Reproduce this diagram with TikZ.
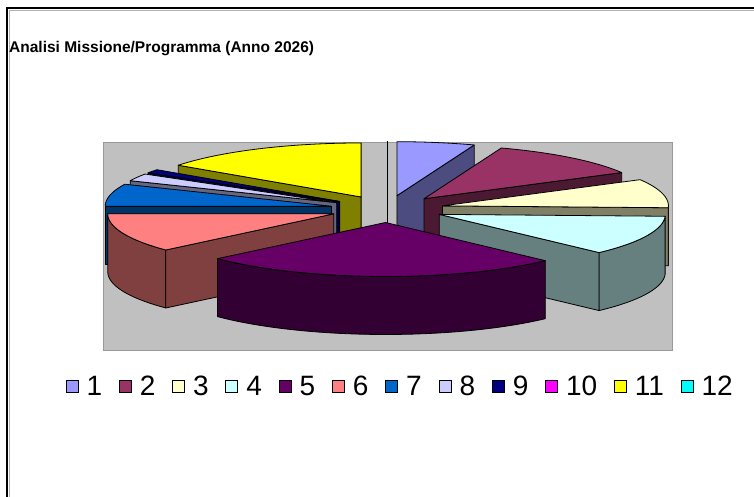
\documentclass[tikz,border=0pt]{standalone}
\usepackage{fontspec}
\setmainfont{Liberation Sans}
\usetikzlibrary{positioning}
\definecolor{serA}{HTML}{9999FF}
\definecolor{serB}{HTML}{993366}
\definecolor{serC}{HTML}{FFFFCC}
\definecolor{serD}{HTML}{CCFFFF}
\definecolor{serE}{HTML}{660066}
\definecolor{serF}{HTML}{FF8080}
\definecolor{serG}{HTML}{0066CC}
\definecolor{serH}{HTML}{CCCCFF}
\definecolor{serI}{HTML}{000080}
\definecolor{serJ}{HTML}{FF00FF}
\definecolor{serK}{HTML}{FFFF00}
\definecolor{serL}{HTML}{00FFFF}
\definecolor{plotgray}{HTML}{C0C0C0}
\tikzset{
  edge/.style={draw=black, line width=0.8pt, line join=round},
  key/.style={draw=black, line width=0.8pt, minimum size=12pt, inner sep=0pt},
  keylabel/.style={font=\fontsize{28}{30}\selectfont, inner sep=0pt},
}
\begin{document}
\begin{tikzpicture}[x=1pt, y=-1pt]
    \useasboundingbox (0,0) rectangle (754,497);
    % Cornice e titolo
    \draw[gray!60, line width=1pt] (9.5,497) |- (754,10.5);
    \draw[line width=2pt] (7,497) |- (754,8);
    \node[anchor=base west, inner sep=0pt, font=\bfseries\fontsize{15.5}{18}\selectfont]
        (titolo) at (9,53) {Analisi Missione/Programma (Anno 2026)};
    % Area del grafico
    \filldraw[fill=plotgray, draw=gray!80] (103,142) rectangle (672,350);
    % Torta 3D esplosa
    \def\cx{387} \def\cy{209} \def\rx{226} \def\ry{54} \def\ex{57} \def\ey{13.5} \def\h{58}
    \draw[edge] (\cx,{\cy-\ey-\ry}) -- (\cx,{\cy-\ey+\h}); % fetta 12, vuota
    \foreach \a/\b/\c in {0/20/serA, 306/360/serK, 20/61/serB, 302/306/serI,
        294/302/serH, 61/92/serC, 270/294/serG, 228/270/serF, 92/135/serD, 135/228/serE}
    {
        \pgfmathsetmacro\m{(\a+\b)/2}
        \pgfmathsetmacro\px{\cx+\ex*sin(\m)}
        \pgfmathsetmacro\py{\cy-\ey*cos(\m)}
        \pgfmathsetmacro\lo{max(\a,90)}
        \pgfmathsetmacro\hi{min(\b,270)}
        \pgfmathtruncatemacro\wall{\lo<\hi}
        \pgfmathtruncatemacro\front{sin(\a)<-0.01}
        \pgfmathtruncatemacro\rear{sin(\b)>0.01}
        % parete esterna
        \ifnum\wall=1
        \filldraw[edge, fill=\c!50!black]
            plot[domain=\lo:\hi, samples=40, variable=\t] ({\px+\rx*sin(\t)}, {\py-\ry*cos(\t)})
            -- plot[domain=\hi:\lo, samples=40, variable=\t] ({\px+\rx*sin(\t)}, {\py-\ry*cos(\t)+\h})
            -- cycle;
        \fi
        % facce del taglio
        \ifnum\front=1
        \filldraw[edge, fill=\c!50!black] (\px,\py) -- ({\px+\rx*sin(\a)}, {\py-\ry*cos(\a)})
            -- ++(0,\h) -- (\px,{\py+\h}) -- cycle;
        \fi
        \ifnum\rear=1
        \filldraw[edge, fill=\c!50!black] (\px,\py) -- ({\px+\rx*sin(\b)}, {\py-\ry*cos(\b)})
            -- ++(0,\h) -- (\px,{\py+\h}) -- cycle;
        \fi
        % faccia superiore
        \filldraw[edge, fill=\c] (\px,\py)
            -- plot[domain=\a:\b, samples=40, variable=\t] ({\px+\rx*sin(\t)}, {\py-\ry*cos(\t)})
            -- cycle;
    }
    % Legenda
    \node[key, fill=serA] (k1) at (72,386) {};
    \node[keylabel, right=8pt of k1] (l1) {1};
    \foreach \i/\c [remember=\i as \j (initially 1)] in {2/serB, 3/serC, 4/serD, 5/serE,
        6/serF, 7/serG, 8/serH, 9/serI, 10/serJ, 11/serK, 12/serL}
    {
        \node[key, fill=\c, right=16.5pt of l\j] (k\i) {};
        \node[keylabel, right=8pt of k\i] (l\i) {\i};
    }
\end{tikzpicture}
\end{document}
